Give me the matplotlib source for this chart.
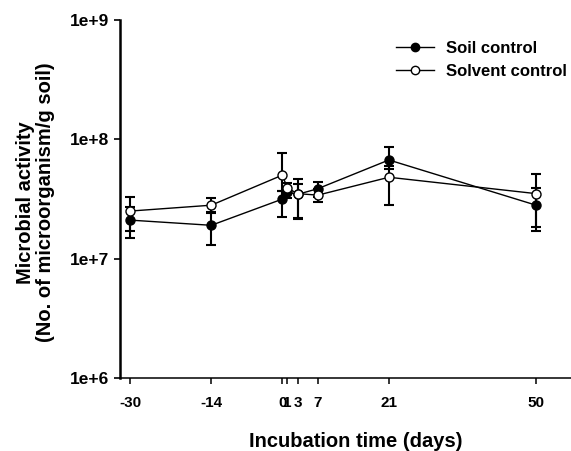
import matplotlib
matplotlib.use("Agg")
import matplotlib.pyplot as plt
from matplotlib.lines import Line2D
import numpy as np

plt.rcParams['font.family'] = ['Liberation Sans', 'DejaVu Sans']
plt.rcParams['font.weight'] = 'bold'

days = [-30, -14, 0, 1, 3, 7, 21, 50]
tick_labels = ["-30", "-14", "0", "1", "3", "7", "21", "50"]

soil = [2.1e7, 1.9e7, 3.15e7, 3.6e7, 3.45e7, 3.85e7, 6.7e7, 2.8e7]
soil_low = [1.5e7, 1.3e7, 2.25e7, 3.2e7, 2.15e7, 3.3e7, 5.6e7, 1.7e7]
soil_high = [2.7e7, 2.45e7, 3.7e7, 4.0e7, 4.2e7, 4.4e7, 8.6e7, 3.9e7]

solvent = [2.5e7, 2.8e7, 5.0e7, 3.9e7, 3.5e7, 3.4e7, 4.8e7, 3.5e7]
solvent_low = [1.7e7, 2.4e7, 3.7e7, 3.5e7, 2.2e7, 3.0e7, 2.8e7, 1.85e7]
solvent_high = [3.3e7, 3.2e7, 7.7e7, 4.3e7, 4.6e7, 3.8e7, 6.0e7, 5.15e7]

W, H = 571, 451
fig = plt.figure(figsize=(W / 100, H / 100), dpi=100)
ax = fig.add_axes([0.210, 0.162, 0.80, 0.794])

def err(v, lo, hi):
    v = np.array(v); lo = np.array(lo); hi = np.array(hi)
    return [v - lo, hi - v]

ax.errorbar(days, soil, yerr=err(soil, soil_low, soil_high), fmt='-o', color='black',
            mfc='black', mec='black', ms=6.5, lw=1.0, elinewidth=1.5, capsize=3.3, capthick=1.5,
            zorder=3)
ax.errorbar(days, solvent, yerr=err(solvent, solvent_low, solvent_high), fmt='-o', color='black',
            mfc='white', mec='black', ms=6.5, lw=1.0, elinewidth=1.5, capsize=3.3, capthick=1.5,
            zorder=4)

ax.set_yscale('log')
ax.set_ylim(1e6, 1e9)
ax.set_xlim(-32, 58)
ax.set_yticks([1e6, 1e7, 1e8, 1e9])
ax.set_yticklabels(["1e+6", "1e+7", "1e+8", "1e+9"])
ax.yaxis.set_minor_locator(matplotlib.ticker.NullLocator())
ax.set_xticks(days)
ax.set_xticklabels(tick_labels)

for s in ['top', 'right']:
    ax.spines[s].set_visible(False)
ax.spines['left'].set_linewidth(1.8)
ax.spines['bottom'].set_linewidth(1.1)
ax.tick_params(axis='y', direction='out', length=4.5, width=1.2, labelsize=12.5, pad=3)
ax.tick_params(axis='x', direction='out', length=4.5, width=1.1, labelsize=11, pad=8.5)

ax.set_xlabel("Incubation time (days)", fontsize=14.5, fontweight='bold')
ax.xaxis.set_label_coords((355.5 - 120) / (0.80 * W), -0.150)
ax.set_ylabel("Microbial activity\n(No. of microorganism/g soil)", fontsize=14.5,
              fontweight='bold', linespacing=1.05)
ax.yaxis.set_label_coords(-0.142, 0.49)

handles = [Line2D([], [], color='black', lw=1.0, marker='o', ms=6, mfc='black', mec='black'),
           Line2D([], [], color='black', lw=1.0, marker='o', ms=6, mfc='white', mec='black')]
ax.legend(handles, ['Soil control', 'Solvent control'], loc='upper left',
          bbox_to_anchor=(396 / W, 1 - 41 / H), bbox_transform=fig.transFigure,
          frameon=False, fontsize=12, handlelength=2.3, handletextpad=0.7,
          labelspacing=0.5, borderpad=0, borderaxespad=0)

fig.savefig("out.png", dpi=100)
